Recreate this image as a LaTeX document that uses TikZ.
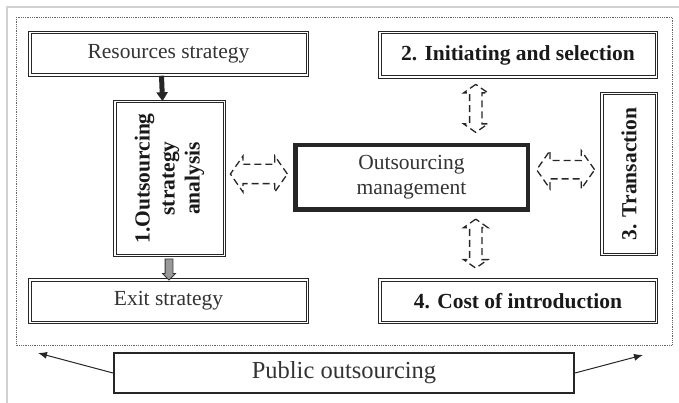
\documentclass[tikz,border=0pt]{standalone}
\usepackage{fontspec}
\setmainfont{Liberation Serif}
\usetikzlibrary{arrows.meta,shapes.arrows,calc}

\tikzset{
  dbox/.style={draw=black!85, double, line width=1pt, double distance=1.5pt,
    inner sep=0pt, align=center, text=black!80,
    font=\fontsize{21.5}{25}\selectfont},
  bbox/.style={dbox, text=black!90, font=\fontsize{21.5}{25}\selectfont\bfseries},
  link/.style={double arrow, draw=black!85, dash pattern=on 7pt off 4pt,
    line width=1.3pt, inner xsep=0pt, double arrow tip angle=110},
}

\begin{document}
\begin{tikzpicture}[x=1pt,y=-1pt]
    \useasboundingbox (0,0) rectangle (679,403);

    % Frame and dotted border
    \draw[black!18, line width=2.5pt] (7,403) -- (7,7) -- (679,7);
    \draw[black!60, densely dotted, line width=0.8pt] (16,17) rectangle (672,345);

    % Left column
    \node[dbox, minimum width=277.5, minimum height=42.5] (res) at (168.5,54) {Resources strategy};
    \node[bbox, rotate=90, minimum width=153.5, minimum height=109.5] (ana) at (169.5,178.5)
        {1.Outsourcing\\strategy\\analysis};
    \node[dbox, minimum width=277.5, minimum height=42.5] (exit) at (168.5,301) {Exit strategy};

    % Right column
    \node[bbox, minimum width=276.5, minimum height=44.5] (init) at (518,55) {2. Initiating and selection};
    \node[bbox, rotate=90, minimum width=160.5, minimum height=54.5] (trans) at (629,174) {3. Transaction};
    \node[bbox, minimum width=276.5, minimum height=42.5] (cost) at (518,301) {4. Cost of introduction};

    % Centre
    \node[draw=black!85, line width=4.5pt, minimum width=232.5, minimum height=64.5,
        align=center, text=black!80, font=\fontsize{21.5}{25}\selectfont] (mgmt) at (411.5,177.5)
        {Outsourcing\\management};

    % Public outsourcing
    \node[draw=black!85, line width=2pt, minimum width=460, minimum height=40,
        text=black!80, font=\fontsize{24.5}{28}\selectfont] (pub) at (344,373) {Public outsourcing};
    \coordinate (lt) at (38,353);
    \coordinate (rt) at (643,355);
    \draw[black!85, line width=1pt, -{Latex[length=9pt,width=7pt]}] (pub.west) -- (lt);
    \draw[black!85, line width=1pt, -{Latex[length=9pt,width=7pt]}] (pub.east) -- (rt);

    % Strategy arrows (ana is rotated: east is its top, west its bottom)
    \draw[black!85, line width=5pt, -{Triangle[width=11pt,length=9pt]}]
        ([xshift=-7pt]res.south) -- ([xshift=-7pt]ana.east);
    \node[single arrow, draw=black!80, fill=black!40, line width=0.8pt, inner xsep=0pt,
        inner ysep=3.5pt, minimum height=21, single arrow head extend=2.5,
        rotate=-90] (down) at ($(ana.west)!.5!(exit.north)$) {};

    % Dashed double arrows
    \node[link, inner ysep=9pt, minimum height=57, double arrow head extend=8.5]
        (l1) at ($(ana.south)!.5!(mgmt.west)+(0,-4)$) {};
    \node[link, inner ysep=8.5pt, minimum height=58, double arrow head extend=10]
        (l2) at ($(mgmt.east)!.5!(trans.north)+(0,-6)$) {};
    \node[link, inner ysep=5.5pt, minimum height=48, double arrow head extend=6,
        rotate=90] (l3) at ($(init.south)!.5!(mgmt.north)+(11,-2)$) {};
    \node[link, inner ysep=5.5pt, minimum height=49, double arrow head extend=6,
        rotate=90] (l4) at ($(mgmt.south)!.5!(cost.north)+(11,-2)$) {};
\end{tikzpicture}
\end{document}
